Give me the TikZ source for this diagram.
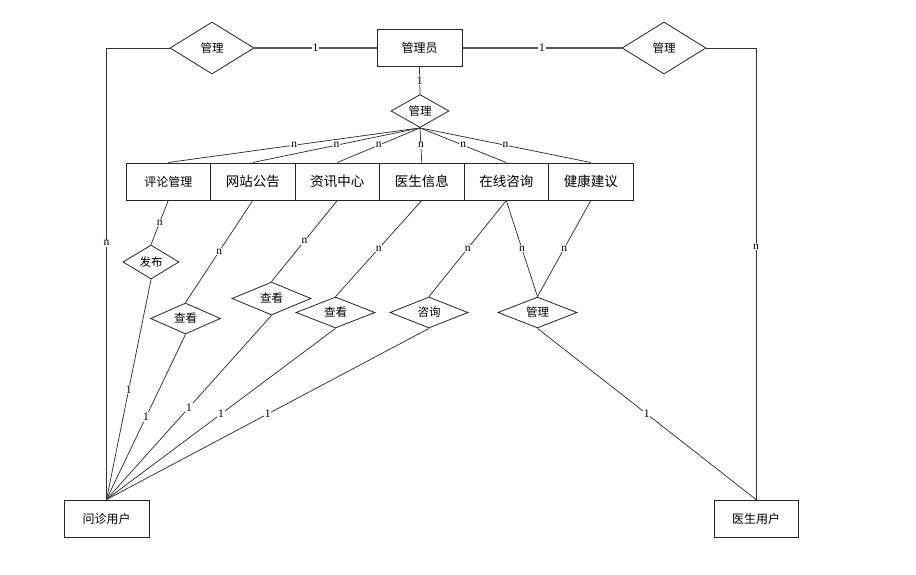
\documentclass[tikz,border=0pt]{standalone}
\usepackage{fontspec}
\setmainfont{Noto Sans CJK SC}
\newfontfamily\labfont{Liberation Serif}
\usetikzlibrary{shapes.geometric}
\begin{document}
\begin{tikzpicture}[x=1pt,y=-1pt,
  ent/.style={draw=black!85,line width=1pt,rectangle,minimum height=37pt,inner sep=0pt,font=\fontsize{12}{12}\selectfont},
  rowent/.style={ent,minimum width=84.5pt,font=\fontsize{13.5}{13.5}\selectfont},
  rel/.style={draw=black!85,line width=0.8pt,diamond,inner sep=0pt,aspect=2,font=\fontsize{11.5}{11.5}\selectfont},
  conn/.style={draw=black!80,line width=0.75pt},
  thickconn/.style={draw=black!65,line width=1.2pt},
  card/.style={fill=white,inner sep=0.8pt,font=\labfont\fontsize{11.5}{11.5}\selectfont}]
\useasboundingbox (0,0) rectangle (916,574);
% entities
\node[ent,minimum width=85pt] (admin) at (419.5,48) {管理员};
\node[rowent,font=\fontsize{12}{12}\selectfont] (plgl) at (168.25,181.5) {评论管理};
\node[rowent] (wzgg) at (252.75,181.5) {网站公告};
\node[rowent] (zxzx) at (337.25,181.5) {资讯中心};
\node[rowent] (ysxx) at (421.75,181.5) {医生信息};
\node[rowent] (zxzs) at (506.25,181.5) {在线咨询};
\node[rowent] (jkjy) at (590.75,181.5) {健康建议};
\node[ent,minimum width=85pt] (wzyh) at (106.5,518.5) {问诊用户};
\node[ent,minimum width=84pt] (ysyh) at (756,518.5) {医生用户};
% relations
\node[rel,minimum width=84pt,minimum height=52pt] (dl) at (212,48) {管理};
\node[rel,minimum width=84pt,minimum height=52pt] (dr) at (664,48) {管理};
\node[rel,minimum width=58pt,minimum height=33pt] (dm) at (420,111) {管理};
\node[rel,minimum width=56pt,minimum height=34pt] (fb) at (151,262) {发布};
\node[rel,minimum width=70pt,minimum height=31pt] (ck1) at (185.5,318.5) {查看};
\node[rel,minimum width=79pt,minimum height=33pt] (ck2) at (271.5,298.5) {查看};
\node[rel,minimum width=79pt,minimum height=31pt] (ck3) at (335.5,312.5) {查看};
\node[rel,minimum width=78pt,minimum height=31pt] (zx) at (429,312.5) {咨询};
\node[rel,minimum width=79pt,minimum height=31pt] (gl2) at (537.5,312.5) {管理};
% top connectors
\draw[thickconn] (dl.east) -- node[card]{1} (admin.west);
\draw[thickconn] (admin.east) -- node[card]{1} (dr.west);
\draw[conn] (dl.west) -| node[card,pos=0.716]{n} (wzyh.north);
\draw[conn] (dr.east) -| node[card,pos=0.72]{n} (ysyh.north);
\draw[conn] (admin.south) -- node[card]{1} (dm.north);
% fan to modules
\foreach \b in {plgl,wzgg,zxzx,ysxx,zxzs,jkjy}
  \draw[conn] (dm.south) -- node[card]{n} (\b.north);
% modules to relations
\draw[conn] (plgl.south) -- node[card]{n} (fb.north);
\draw[conn] (wzgg.south) -- node[card]{n} (ck1.north);
\draw[conn] (zxzx.south) -- node[card]{n} (ck2.north);
\draw[conn] (ysxx.south) -- node[card]{n} (ck3.north);
\draw[conn] (zxzs.south) -- node[card]{n} (zx.north);
\draw[conn] (zxzs.south) -- node[card]{n} (gl2.north);
\draw[conn] (jkjy.south) -- node[card]{n} (gl2.north);
% relations to users
\foreach \r in {fb,ck1,ck2,ck3,zx}
  \draw[conn] (\r.south) -- node[card]{1} (wzyh.north);
\draw[conn] (gl2.south) -- node[card]{1} (ysyh.north);
\end{tikzpicture}
\end{document}
